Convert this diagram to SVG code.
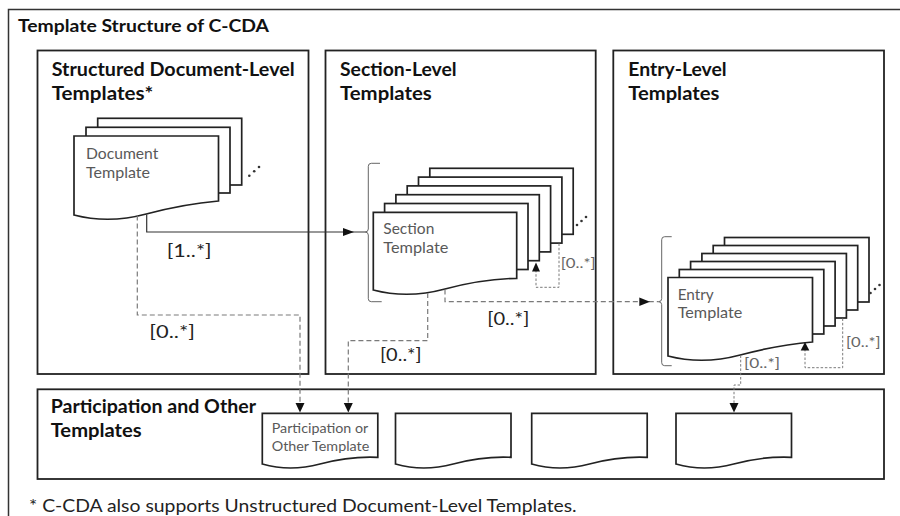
<svg xmlns="http://www.w3.org/2000/svg" width="900" height="516" viewBox="0 0 900 516">
<style>
  text { font-family: Lato, "Liberation Sans", sans-serif; }
  .h { font-weight: bold; fill: #111; }
  .t { font-size: 16px; fill: #595959; }
  .lbl { font-size: 17px; fill: #222; }
  .sm { font-size: 13px; fill: #666; }
  .box { fill: none; stroke: #222; stroke-width: 1.8; }
  .pg { fill: #fff; stroke: #222; stroke-width: 1.7; }
  .br { fill: none; stroke: #666; stroke-width: 1; }
  .solid { fill: none; stroke: #333; stroke-width: 1.2; }
  .dash { fill: none; stroke: #7a7a7a; stroke-width: 1.2; stroke-dasharray: 5 3; }
  .dot { fill: none; stroke: #7a7a7a; stroke-width: 1; stroke-dasharray: 2.5 1.8; }
  .ah { fill: #111; }
  .dt { fill: #333; }
</style>
<rect width="900" height="516" fill="#fff"/>

<g id="frame">
  <rect x="8.5" y="9.5" width="1000" height="600" fill="none" stroke="#333" stroke-width="1.5"/>
  <text class="h" x="18" y="31.7" font-size="16.5" textLength="251" lengthAdjust="spacingAndGlyphs">Template Structure of C-CDA</text>
</g>

<g id="doc-level">
  <rect class="box" x="37.5" y="50.5" width="271" height="323.5"/>
  <text class="h" x="51.7" y="76" font-size="18" textLength="243" lengthAdjust="spacingAndGlyphs">Structured Document-Level</text>
  <text class="h" x="51.7" y="100" font-size="18" textLength="101.6" lengthAdjust="spacingAndGlyphs">Templates*</text>
</g>
<g id="section-level">
  <rect class="box" x="325.5" y="50.5" width="270.2" height="323.5"/>
  <text class="h" x="340" y="76" font-size="18" textLength="116.7" lengthAdjust="spacingAndGlyphs">Section-Level</text>
  <text class="h" x="340" y="100" font-size="18" textLength="91.7" lengthAdjust="spacingAndGlyphs">Templates</text>
</g>
<g id="entry-level">
  <rect class="box" x="613.3" y="50.5" width="270.7" height="323.5"/>
  <text class="h" x="628.3" y="76" font-size="18" textLength="98.4" lengthAdjust="spacingAndGlyphs">Entry-Level</text>
  <text class="h" x="628.3" y="100" font-size="18" textLength="91" lengthAdjust="spacingAndGlyphs">Templates</text>
</g>
<g id="participation-level">
  <rect class="box" x="37.5" y="389.3" width="846.5" height="89.7"/>
  <text class="h" x="50.7" y="412.7" font-size="18" textLength="205.3" lengthAdjust="spacingAndGlyphs">Participation and Other</text>
  <text class="h" x="50.7" y="436.7" font-size="18" textLength="91" lengthAdjust="spacingAndGlyphs">Templates</text>
</g>

<g id="document-template">
  <rect class="pg" x="97.7" y="118.3" width="144" height="66.7"/>
  <rect class="pg" x="86" y="127.3" width="144" height="65.7"/>
  <path class="pg" d="M74,215 Q108.7,224 146.25,214 T218.5,201 V136 H74 Z"/>
  <text class="t" x="86" y="159.3" textLength="72.3" lengthAdjust="spacingAndGlyphs">Document</text>
  <text class="t" x="86" y="178.3" textLength="64" lengthAdjust="spacingAndGlyphs">Template</text>
  <circle class="dt" cx="249.3" cy="175.7" r="1.3"/>
  <circle class="dt" cx="254.2" cy="171.3" r="1.3"/>
  <circle class="dt" cx="259" cy="167" r="1.3"/>
</g>

<g id="section-template">
  <path class="br" d="M380,163.3 H371.3 Q368.3,163.3 368.3,166.3 V229 Q368.3,232 365,232 Q368.3,232 368.3,235 V298.7 Q368.3,301.7 371.3,301.7 H381.7"/>
  <rect class="pg" x="429.8" y="168.3" width="143.4" height="66"/>
  <rect class="pg" x="418.5" y="177.1" width="143.4" height="66"/>
  <rect class="pg" x="407.2" y="185.9" width="143.4" height="66"/>
  <rect class="pg" x="395.9" y="194.7" width="143.4" height="66"/>
  <rect class="pg" x="384.6" y="203.5" width="143.4" height="66"/>
  <path class="pg" d="M373.3,290 Q407.7,299 445,289 T516.7,278.3 V212.3 H373.3 Z"/>
  <text class="t" x="383.3" y="234" textLength="51" lengthAdjust="spacingAndGlyphs">Section</text>
  <text class="t" x="383.3" y="252.7" textLength="65" lengthAdjust="spacingAndGlyphs">Template</text>
  <circle class="dt" cx="577" cy="225" r="1.3"/>
  <circle class="dt" cx="581.5" cy="221" r="1.3"/>
  <circle class="dt" cx="586" cy="217" r="1.3"/>
</g>

<g id="entry-template">
  <path class="br" d="M671.7,236.7 H664.7 Q661.7,236.7 661.7,239.7 V298.7 Q661.7,301.7 658.5,301.7 Q661.7,301.7 661.7,304.7 V362.7 Q661.7,365.7 664.7,365.7 H671.7"/>
  <rect class="pg" x="724.5" y="237.5" width="144.5" height="64.5"/>
  <rect class="pg" x="713.2" y="245.5" width="144.5" height="64.5"/>
  <rect class="pg" x="701.9" y="253.5" width="144.5" height="64.5"/>
  <rect class="pg" x="690.6" y="261.5" width="144.5" height="64.5"/>
  <rect class="pg" x="679.3" y="269.5" width="144.5" height="64.5"/>
  <path class="pg" d="M668,356 Q702.7,365 740.25,355 T812.5,342 V277.5 H668 Z"/>
  <text class="t" x="677.7" y="300" textLength="36" lengthAdjust="spacingAndGlyphs">Entry</text>
  <text class="t" x="677.7" y="317.7" textLength="64.6" lengthAdjust="spacingAndGlyphs">Template</text>
  <circle class="dt" cx="870.5" cy="293" r="1.3"/>
  <circle class="dt" cx="875" cy="289" r="1.3"/>
  <circle class="dt" cx="879.5" cy="285" r="1.3"/>
</g>

<g id="participation-template">
  <path class="pg" d="M262.3,464 Q290,472 320,464 T377.8,457.3 V413.3 H262.3 Z"/>
  <text x="271.7" y="433.3" font-size="14" fill="#595959" textLength="96.6" lengthAdjust="spacingAndGlyphs">Participation or</text>
  <text x="271.7" y="450.7" font-size="14" fill="#595959" textLength="97.6" lengthAdjust="spacingAndGlyphs">Other Template</text>
</g>
<g id="participation-2">
  <path class="pg" d="M395.5,464 Q423.2,472 453.25,464 T511,457.3 V413.3 H395.5 Z"/>
</g>
<g id="participation-3">
  <path class="pg" d="M531.7,464 Q559.4,472 589.45,464 T647.2,457.3 V413.3 H531.7 Z"/>
</g>
<g id="participation-4">
  <path class="pg" d="M676,464 Q703.7,472 733.75,464 T791.5,457.3 V413.3 H676 Z"/>
</g>

<g id="connectors">
  <!-- Document -> Section [1..*] -->
  <path class="solid" d="M146.7,214.5 V232 H365"/>
  <polygon class="ah" points="343,228 354,232 343,236"/>
  <text class="lbl" x="166.7" y="256.7" textLength="45" lengthAdjust="spacingAndGlyphs">[1..*]</text>

  <!-- Document -> Participation [0..*] -->
  <path class="dash" d="M137.3,215.5 V315 H300 V403"/>
  <polygon class="ah" points="295.5,403 304.5,403 300,412.5"/>
  <text class="lbl" x="149.3" y="338.3" textLength="45.7" lengthAdjust="spacingAndGlyphs">[0..*]</text>

  <!-- Section -> Participation [0..*] -->
  <path class="dash" d="M427.7,293 V340.7 H348.3 V403"/>
  <polygon class="ah" points="343.8,403 352.8,403 348.3,412.5"/>
  <text class="lbl" x="380" y="360.7" textLength="41.7" lengthAdjust="spacingAndGlyphs">[0..*]</text>

  <!-- Section -> Entry [0..*] -->
  <path class="dash" d="M445,289.5 V301.7 H658.5"/>
  <polygon class="ah" points="639.3,297.5 650,301.7 639.3,305.9"/>
  <text class="lbl" x="487.3" y="325" textLength="42" lengthAdjust="spacingAndGlyphs">[0..*]</text>

  <!-- Section self [0..*] -->
  <path class="dot" d="M559,243.5 V287.3 H536 V271"/>
  <polygon class="ah" points="532,271.5 540,271.5 536,262.5"/>
  <text class="sm" x="560.7" y="268.3" textLength="35" lengthAdjust="spacingAndGlyphs">[0..*]</text>

  <!-- Entry self [0..*] -->
  <path class="dot" d="M842.7,318.5 V367.7 H805 V350"/>
  <polygon class="ah" points="800.7,350.5 809.3,350.5 805,342"/>
  <text class="sm" x="846" y="346.7" textLength="34.7" lengthAdjust="spacingAndGlyphs">[0..*]</text>

  <!-- Entry -> Participation [0..*] -->
  <path class="dot" d="M740.7,355.5 V385 H734 V403"/>
  <polygon class="ah" points="729.5,403 738.5,403 734,412.5"/>
  <text class="sm" x="744" y="367.7" textLength="36" lengthAdjust="spacingAndGlyphs">[0..*]</text>
</g>

<g id="footnote">
  <text x="29" y="511.5" font-size="17" fill="#222" textLength="547.7" lengthAdjust="spacingAndGlyphs">* C-CDA also supports Unstructured Document-Level Templates.</text>
</g>
</svg>
